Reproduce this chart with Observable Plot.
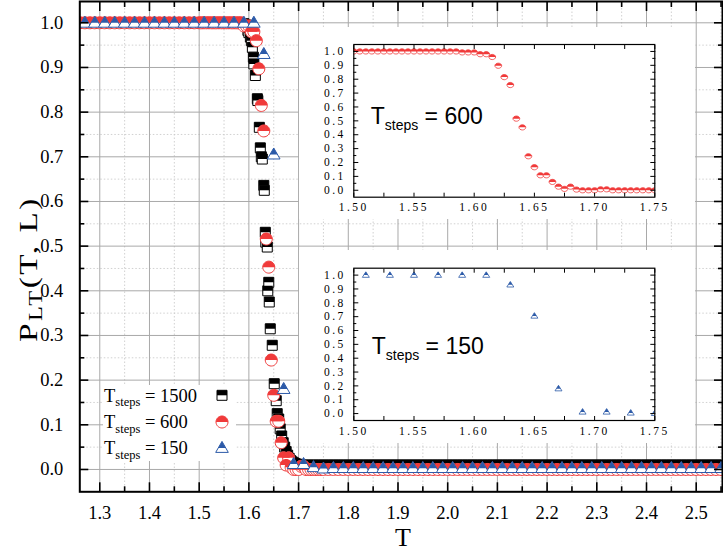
<!DOCTYPE html>
<html><head><meta charset="utf-8">
<script src="https://cdn.jsdelivr.net/npm/d3@7"></script>
<script src="https://cdn.jsdelivr.net/npm/@observablehq/plot@0.6"></script>
<style>
html,body{margin:0;padding:0;background:#fff;}
#wrap{position:relative;width:723px;height:552px;overflow:hidden;}
#wrap > *{position:absolute;}
#wrap svg text{font-family:"Liberation Serif","Times New Roman",serif;}
.inset text{letter-spacing:2.5px;}
#wrap svg text.sans{font-family:"Liberation Sans",Arial,sans-serif;}
</style></head><body><div id="wrap"></div>
<script>
// ---------------- data ----------------
// Tsteps = 1500 (black half-filled squares)
const T1500_low = [1.26,1.27,1.28,1.29,1.30,1.31,1.32,1.33,1.34,1.35,1.36,1.37,1.38,1.39,1.40,1.41,1.42,1.43,1.44,1.45,1.46,1.47,1.48,1.49,1.50,1.51,1.52,1.53,1.54,1.55,1.56,1.57,1.58];
const P1500_low = [1,1,1,1,1,1,1,1,1,1,1,1,1,1,1,1,1,1,1,1,1,1,1,1,1,1,1,1,1,1,1,1,1];
const T1500_mid = [1.590,1.595,1.598,1.600,1.603,1.605,1.607,1.609,1.610,1.613,1.617,1.618,1.621,1.623,1.625,1.627,1.630,1.631,1.633,1.634,1.637,1.638,1.640,1.641,1.643,1.647,1.651,1.655,1.657,1.660,1.663,1.666,1.669,1.672,1.675,1.678,1.681,1.684,1.687,1.690,1.693,1.696,1.700];
const P1500_mid = [0.998,0.995,0.983,0.978,0.968,0.96,0.945,0.923,0.908,0.882,0.83,0.826,0.766,0.72,0.70,0.695,0.636,0.625,0.531,0.509,0.498,0.40,0.419,0.375,0.315,0.278,0.192,0.154,0.125,0.113,0.091,0.075,0.06,0.05,0.04,0.032,0.025,0.02,0.017,0.015,0.013,0.012,0.011];
const T1500_high = [1.71,1.72,1.73,1.74,1.75,1.76,1.77,1.78,1.79,1.80,1.81,1.82,1.83,1.84,1.85,1.86,1.87,1.88,1.89,1.90,1.91,1.92,1.93,1.94,1.95,1.96,1.97,1.98,1.99,2.00,2.01,2.02,2.03,2.04,2.05,2.06,2.07,2.08,2.09,2.10,2.11,2.12,2.13,2.14,2.15,2.16,2.17,2.18,2.19,2.20,2.21,2.22,2.23,2.24,2.25,2.26,2.27,2.28,2.29,2.30,2.31,2.32,2.33,2.34,2.35,2.36,2.37,2.38,2.39,2.40,2.41,2.42,2.43,2.44,2.45,2.46,2.47,2.48,2.49,2.50,2.51,2.52,2.53,2.54,2.55];
const P1500_high = [0.01,0.01,0.01,0.01,0.01,0.01,0.01,0.01,0.01,0.01,0.01,0.01,0.01,0.01,0.01,0.01,0.01,0.01,0.01,0.01,0.01,0.01,0.01,0.01,0.01,0.01,0.01,0.01,0.01,0.01,0.01,0.01,0.01,0.01,0.01,0.01,0.01,0.01,0.01,0.01,0.01,0.01,0.01,0.01,0.01,0.01,0.01,0.01,0.01,0.01,0.01,0.01,0.01,0.01,0.01,0.01,0.01,0.01,0.01,0.01,0.01,0.01,0.01,0.01,0.01,0.01,0.01,0.01,0.01,0.01,0.01,0.01,0.01,0.01,0.01,0.01,0.01,0.01,0.01,0.01,0.01,0.01,0.01,0.01,0.01];

// Tsteps = 600 (red half-filled circles)
const T600_low = [1.26,1.27,1.28,1.29,1.30,1.31,1.32,1.33,1.34,1.35,1.36,1.37,1.38,1.39,1.40,1.41,1.42,1.43,1.44,1.45,1.46,1.47,1.48,1.49];
const P600_low = [1,1,1,1,1,1,1,1,1,1,1,1,1,1,1,1,1,1,1,1,1,1,1,1];
const T600_mid = [1.500,1.505,1.510,1.515,1.520,1.525,1.530,1.535,1.540,1.545,1.550,1.555,1.560,1.565,1.570,1.575,1.580,1.585,1.590,1.595,1.600,1.605,1.610,1.615,1.620,1.625,1.630,1.635,1.640,1.645,1.650,1.655,1.660,1.665,1.670,1.675,1.680,1.685,1.690,1.695,1.700,1.705,1.710,1.715,1.720,1.725,1.730,1.735,1.740,1.745,1.750];
const P600_mid = [1,1,1,1,1,1,1,1,1,1,1,1,1,1,1,1,1,1,0.993,0.993,0.993,0.98,0.98,0.96,0.897,0.815,0.758,0.516,0.453,0.245,0.166,0.108,0.108,0.06,0.026,0.01,0.026,0.005,0,0,0,0.007,0.007,0,0,0,0,0,0,0,0];
const T600_high = [1.76,1.77,1.78,1.79,1.80,1.81,1.82,1.83,1.84,1.85,1.86,1.87,1.88,1.89,1.90,1.91,1.92,1.93,1.94,1.95,1.96,1.97,1.98,1.99,2.00,2.01,2.02,2.03,2.04,2.05,2.06,2.07,2.08,2.09,2.10,2.11,2.12,2.13,2.14,2.15,2.16,2.17,2.18,2.19,2.20,2.21,2.22,2.23,2.24,2.25,2.26,2.27,2.28,2.29,2.30,2.31,2.32,2.33,2.34,2.35,2.36,2.37,2.38,2.39,2.40,2.41,2.42,2.43,2.44,2.45,2.46,2.47,2.48,2.49,2.50,2.51,2.52,2.53,2.54,2.55];
const P600_high = [0,0,0,0,0,0,0,0,0,0,0,0,0,0,0,0,0,0,0,0,0,0,0,0,0,0,0,0,0,0,0,0,0,0,0,0,0,0,0,0,0,0,0,0,0,0,0,0,0,0,0,0,0,0,0,0,0,0,0,0,0,0,0,0,0,0,0,0,0,0,0,0,0,0,0,0,0,0,0,0];

// Tsteps = 150 (blue half-filled triangles)
const T150 = [1.27,1.29,1.31,1.33,1.35,1.37,1.39,1.41,1.43,1.45,1.47,1.49,1.51,1.53,1.55,1.57,1.59,1.61,1.63,1.65,1.67,1.69,1.71,1.73,1.75,1.77,1.79,1.81,1.83,1.85,1.87,1.89,1.91,1.93,1.95,1.97,1.99,2.01,2.03,2.05,2.07,2.09,2.11,2.13,2.15,2.17,2.19,2.21,2.23,2.25,2.27,2.29,2.31,2.33,2.35,2.37,2.39,2.41,2.43,2.45,2.47,2.49,2.51,2.53,2.55];
const P150 = [1,1,1,1,1,1,1,1,1,1,1,1,1,1,1,1,1,1,0.93,0.705,0.18,0.012,0.012,0.005,0.002,0.003,0.003,0.003,0.003,0.003,0.003,0.003,0.003,0.003,0.003,0.003,0.003,0.003,0.003,0.003,0.003,0.003,0.003,0.003,0.003,0.003,0.003,0.003,0.003,0.003,0.003,0.003,0.003,0.003,0.003,0.003,0.003,0.003,0.003,0.003,0.003,0.003,0.003,0.003,0.003];

// ticks
const xMajorTicks = [1.3,1.4,1.5,1.6,1.7,1.8,1.9,2.0,2.1,2.2,2.3,2.4,2.5];
const xMinorTicks = [1.35,1.45,1.55,1.65,1.75,1.85,1.95,2.05,2.15,2.25,2.35,2.45,2.55];
const yMajorTicks = [0,0.1,0.2,0.3,0.4,0.5,0.6,0.7,0.8,0.9,1.0];
const yMinorTicks = [0.05,0.15,0.25,0.35,0.45,0.55,0.65,0.75,0.85,0.95];
const insetXMajor = [1.50,1.55,1.60,1.65,1.70,1.75];
const insetXMinor = [1.525,1.575,1.625,1.675,1.725];
const legendLabels = ["1500","600","150"];
const insetLabels = ["600","150"];

// ---------------- helpers ----------------
const SERIF = "Liberation Serif, Times New Roman, serif";
const rows = (T, P) => T.map((t, i) => ({T: t, P: P[i]}));
const d1500 = rows([...T1500_low, ...T1500_mid, ...T1500_high], [...P1500_low, ...P1500_mid, ...P1500_high]);
const d600 = rows([...T600_low, ...T600_mid, ...T600_high], [...P600_low, ...P600_mid, ...P600_high]);
const d150 = rows(T150, P150);

const BLACK = "#000000", RED = "#f03a3a", BLUE = "#2c5aa8";
const sq = (h, top) => ({draw(c){ c.rect(-h, -h, 2*h, top ? h : 2*h); }});
const ell = (rx, ry, top) => ({draw(c){
  const k = 0.5523;
  c.moveTo(-rx, 0);
  c.bezierCurveTo(-rx, -ry*k, -rx*k, -ry, 0, -ry);
  c.bezierCurveTo(rx*k, -ry, rx, -ry*k, rx, 0);
  if (!top) {
    c.bezierCurveTo(rx, ry*k, rx*k, ry, 0, ry);
    c.bezierCurveTo(-rx*k, ry, -rx, ry*k, -rx, 0);
  }
  c.closePath();
}});
const tri = (w, h, top) => ({draw(c){
  c.moveTo(0, -0.6*h);
  if (top) { c.lineTo(0.3*w, 0); c.lineTo(-0.3*w, 0); }
  else { c.lineTo(w/2, 0.4*h); c.lineTo(-w/2, 0.4*h); }
  c.closePath();
}});

const series = [
  {data: d1500, full: sq(5, false), top: sq(5, true), color: BLACK},
  {data: d600, full: ell(6, 6, false), top: ell(6, 6, true), color: RED},
  {data: d150, full: tri(12.6, 11, false), top: tri(12.6, 11, true), color: BLUE}
];

const noText = () => "";
const gridMinor = {stroke: "#cccccc", strokeOpacity: 1, strokeWidth: 0.9, strokeDasharray: "1.5,2"};
const gridMajor = {stroke: "#a9a9a9", strokeOpacity: 1, strokeWidth: 1};

// ---------------- main plot ----------------
const mainMarks = [
  Plot.gridX(xMinorTicks, gridMinor),
  Plot.gridY(yMinorTicks, gridMinor),
  Plot.gridX(xMajorTicks, gridMajor),
  Plot.gridY(yMajorTicks, gridMajor)
];
for (const s of series) {
  mainMarks.push(Plot.dot(s.data, {x: "T", y: "P", symbol: s.full, fill: "white", stroke: s.color, strokeWidth: 1, clip: true}));
  mainMarks.push(Plot.dot(s.data, {x: "T", y: "P", symbol: s.top, fill: s.color, stroke: "none", clip: true}));
}
const tk = {tickFormat: noText, strokeWidth: 1.6, label: null};
mainMarks.push(
  Plot.axisX(xMajorTicks, {anchor: "bottom", tickSize: -9, ...tk}),
  Plot.axisX(xMinorTicks, {anchor: "bottom", tickSize: -5, ...tk}),
  Plot.axisX(xMajorTicks, {anchor: "top", tickSize: -9, ...tk}),
  Plot.axisX(xMinorTicks, {anchor: "top", tickSize: -5, ...tk}),
  Plot.axisY(yMajorTicks, {anchor: "left", tickSize: -9, ...tk}),
  Plot.axisY(yMinorTicks, {anchor: "left", tickSize: -5, ...tk}),
  Plot.axisY(yMajorTicks, {anchor: "right", tickSize: -9, ...tk}),
  Plot.axisY(yMinorTicks, {anchor: "right", tickSize: -5, ...tk}),
  Plot.axisX(xMajorTicks, {anchor: "bottom", tickSize: 0, tickPadding: 14, tickFormat: d => d.toFixed(1), label: null, fontFamily: SERIF, fontSize: 18.5}),
  Plot.axisY(yMajorTicks, {anchor: "left", tickSize: 0, tickPadding: 16.5, tickFormat: d => d.toFixed(1), label: null, fontFamily: SERIF, fontSize: 18.5}),
  Plot.frame({stroke: "black", strokeWidth: 2})
);

const main = Plot.plot({
  width: 723, height: 552,
  marginLeft: 79.3, marginRight: 1, marginTop: 1, marginBottom: 60.7,
  x: {domain: [1.2598, 2.5529], label: null},
  y: {domain: [-0.05, 1.0477], label: null},
  style: {fontFamily: SERIF, fontSize: "18.5px", color: "black", background: "transparent", overflow: "visible"},
  marks: mainMarks
});

// ---------------- insets ----------------
function makeInset(s, full, top, h, mTop, mBottom) {
  const itk = {tickFormat: noText, strokeWidth: 1, label: null};
  return Plot.plot({
    className: "inset",
    width: 396, height: h,
    marginLeft: 54.3, marginRight: 40.7, marginTop: mTop, marginBottom: mBottom,
    x: {domain: [1.5, 1.75], label: null},
    y: {domain: [-0.05, 1.05], label: null},
    style: {fontFamily: SERIF, fontSize: "11.5px", color: "black", background: "white", overflow: "visible"},
    marks: [
      Plot.dot(s.data, {x: "T", y: "P", symbol: full, fill: "white", stroke: s.color, strokeWidth: 0.8, clip: true}),
      Plot.dot(s.data, {x: "T", y: "P", symbol: top, fill: s.color, stroke: "none", clip: true}),
      Plot.axisY(yMajorTicks, {anchor: "left", tickSize: -5, ...itk}),
      Plot.axisY(yMinorTicks, {anchor: "left", tickSize: -3, ...itk}),
      Plot.axisY(yMajorTicks, {anchor: "right", tickSize: -5, ...itk}),
      Plot.axisY(yMinorTicks, {anchor: "right", tickSize: -3, ...itk}),
      Plot.axisX(insetXMajor, {anchor: "bottom", tickSize: -4, ...itk}),
      Plot.axisX(insetXMinor, {anchor: "bottom", tickSize: -4, ...itk}),
      Plot.axisX(insetXMajor, {anchor: "top", tickSize: -4, ...itk}),
      Plot.axisX(insetXMinor, {anchor: "top", tickSize: -4, ...itk}),
      Plot.axisY(yMajorTicks, {anchor: "left", tickSize: 0, tickPadding: 8, tickFormat: d => d.toFixed(1), label: null, fontFamily: SERIF, fontSize: 11.5}),
      Plot.axisX(insetXMajor, {anchor: "bottom", tickSize: 0, tickPadding: 6, tickFormat: d => d.toFixed(2), label: null, fontFamily: SERIF, fontSize: 11.5}),
      Plot.frame({stroke: "black", strokeWidth: 1.2})
    ]
  });
}
const inset1 = makeInset(series[1], ell(3.4, 2.6, false), ell(3.4, 2.6, true), 192, 17, 22.3);
const inset2 = makeInset(series[2], tri(7, 5.5, false), tri(7, 5.5, true), 193, 17.7, 23);

const wrap = document.getElementById("wrap");
main.style.left = "0px"; main.style.top = "0px";
wrap.appendChild(main);
inset1.style.position = "absolute"; inset1.style.left = "299px"; inset1.style.top = "27px";
inset2.style.position = "absolute"; inset2.style.left = "299px"; inset2.style.top = "250px";
wrap.appendChild(inset1);
wrap.appendChild(inset2);

// ---------------- overlay: labels & legend ----------------
const ov = d3.create("svg").attr("width", 723).attr("height", 552)
  .style("position", "absolute").style("left", "0px").style("top", "0px")
  .style("white-space", "pre");

// y label (wide, as in the reference)
const yl = ov.append("text").attr("transform", "translate(37,269) rotate(-90)")
  .attr("text-anchor", "middle").attr("font-size", 26)
  .style("letter-spacing", "2px")
  .attr("textLength", 146).attr("lengthAdjust", "spacingAndGlyphs");
yl.append("tspan").text("P");
yl.append("tspan").attr("font-size", 19).attr("dy", 5).text("LT");
yl.append("tspan").attr("dy", -5).text("(T, L)");

// x label
ov.append("text").attr("x", 403).attr("y", 546).attr("text-anchor", "middle")
  .attr("font-size", 26).text("T");

// legend
ov.append("rect").attr("x", 103).attr("y", 385).attr("width", 133).attr("height", 76).attr("fill", "white");
const symPath = sym => { const p = d3.path(); sym.draw(p, 0); return p.toString(); };
const legBase = [401.7, 428.0, 454.3];
const legMarkY = [395.3, 422, 448];
series.forEach((s, i) => {
  const t = ov.append("text").attr("x", 104).attr("y", legBase[i]).attr("font-size", 18.5);
  t.append("tspan").text("T");
  t.append("tspan").attr("font-size", 12.5).attr("dy", 4.5).text("steps");
  t.append("tspan").attr("dy", -4.5).text(" = " + legendLabels[i]);
  const g = ov.append("g").attr("transform", `translate(222,${legMarkY[i]})`);
  g.append("path").attr("d", symPath(s.full)).attr("fill", "white").attr("stroke", s.color).attr("stroke-width", 1);
  g.append("path").attr("d", symPath(s.top)).attr("fill", s.color);
});

// inset labels
[[370.7, 124.3], [371.7, 354]].forEach(([x, y], i) => {
  const t = ov.append("text").attr("class", "sans").attr("x", x).attr("y", y).attr("font-size", 23);
  t.append("tspan").text("T");
  t.append("tspan").attr("font-size", 14).attr("dy", 6).text("steps");
  t.append("tspan").attr("dy", -6).text(" = " + insetLabels[i]);
});

wrap.appendChild(ov.node());
</script></body></html>
